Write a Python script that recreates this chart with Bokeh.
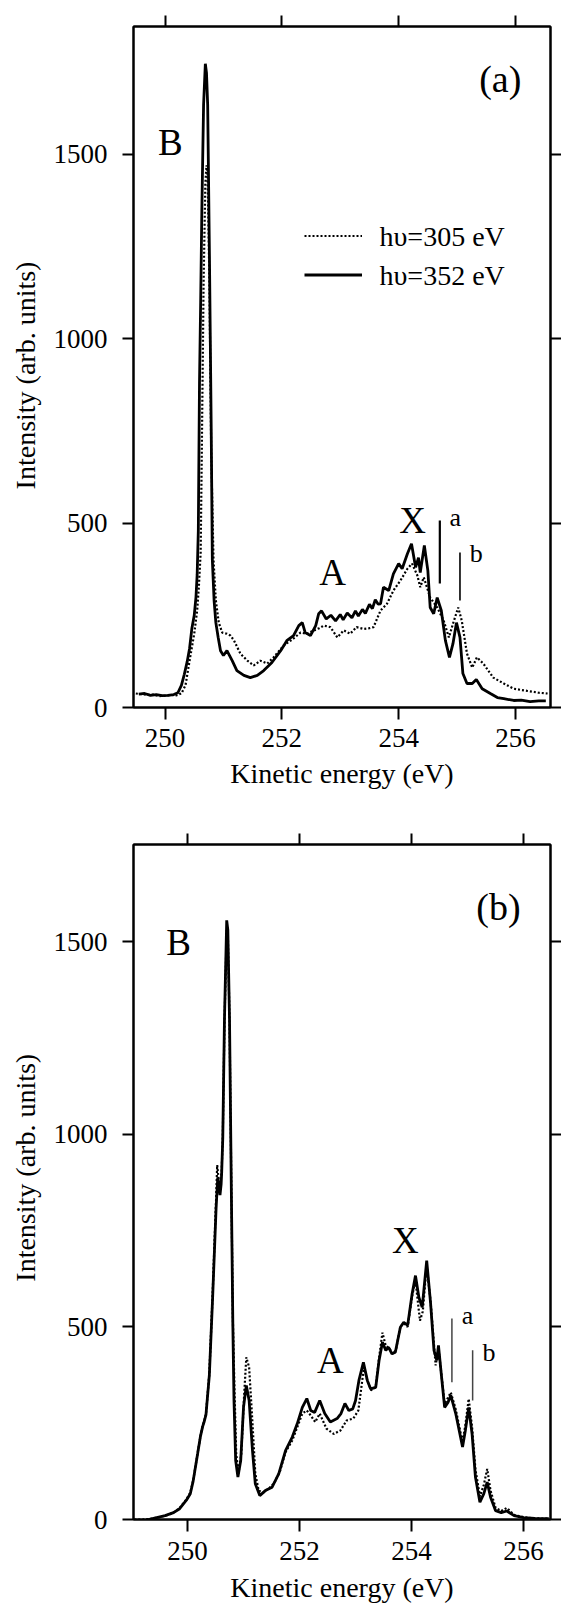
import math
from bokeh.plotting import figure
from bokeh.models import (Range1d, LinearAxis, FixedTicker, Legend, LegendItem,
                          LabelSet, ColumnDataSource)
from bokeh.layouts import column, row
from bokeh.embed import file_html
from bokeh.resources import INLINE
from bokeh.core.properties import value

FONT = "'Liberation Serif', 'Times New Roman', serif"

# ---------------- data : panel (a) ----------------
a_sol_E = [249.55, 249.65, 249.75, 249.85, 249.95, 250.05, 250.15, 250.22, 250.28, 250.33,
           250.38, 250.42, 250.46, 250.50, 250.53, 250.55, 250.57, 250.59, 250.61, 250.63,
           250.66, 250.69, 250.71, 250.73, 250.76, 250.79, 250.81, 250.84, 250.87, 250.91,
           250.95, 251.00, 251.06, 251.15, 251.23, 251.35, 251.46, 251.58, 251.69, 251.83,
           251.98, 252.09, 252.20, 252.29, 252.35, 252.40, 252.49, 252.58, 252.63, 252.68,
           252.76, 252.84, 252.92, 253.00, 253.05, 253.12, 253.20, 253.26, 253.31, 253.38,
           253.43, 253.50, 253.55, 253.60, 253.65, 253.69, 253.74, 253.83, 253.91, 254.00,
           254.06, 254.15, 254.22, 254.29, 254.34, 254.37, 254.44, 254.50, 254.54, 254.60,
           254.66, 254.73, 254.80, 254.87, 254.93, 254.99, 255.05, 255.10, 255.17, 255.26,
           255.33, 255.43, 255.57, 255.69, 255.80, 255.97, 256.10, 256.25, 256.40, 256.52]
a_sol_I = [36, 38, 33, 35, 32, 33, 35, 40, 60, 90,
           125, 160, 215, 250, 300, 360, 480, 880, 1100, 1344,
           1634, 1745, 1720, 1634, 1228, 765, 400, 290, 230, 190,
           154, 141, 154, 127, 100, 87, 81, 87, 100, 122,
           154, 182, 195, 222, 230, 203, 195, 222, 254, 262,
           240, 250, 235, 252, 238, 256, 243, 262, 248, 266,
           255, 280, 268, 292, 280, 281, 326, 317, 362, 390,
           376, 417, 444, 380, 406, 366, 439, 371, 271, 254,
           298, 263, 182, 136, 173, 230, 190, 92, 65, 65,
           76, 51, 38, 27, 24, 19, 20, 16, 18, 18]

a_dot_E = [249.50, 249.60, 249.70, 249.80, 249.90, 250.00, 250.10, 250.20, 250.28, 250.35,
           250.43, 250.50, 250.55, 250.58, 250.61, 250.63, 250.66, 250.69, 250.71, 250.73,
           250.76, 250.79, 250.83, 250.87, 250.92, 250.98, 251.06, 251.12, 251.18, 251.29,
           251.41, 251.52, 251.63, 251.75, 251.86, 252.03, 252.20, 252.32, 252.43, 252.55,
           252.64, 252.72, 252.83, 252.95, 253.06, 253.17, 253.28, 253.40, 253.50, 253.57,
           253.69, 253.80, 253.91, 254.03, 254.15, 254.23, 254.32, 254.37, 254.43, 254.54,
           254.66, 254.77, 254.86, 254.93, 255.02, 255.08, 255.17, 255.26, 255.34, 255.45,
           255.62, 255.80, 255.97, 256.20, 256.40, 256.55]
a_dot_I = [38, 36, 34, 35, 31, 32, 34, 33, 38, 60,
           136, 200, 263, 330, 420, 700, 1150, 1420, 1470, 1440,
           1150, 700, 400, 290, 230, 203, 200, 195, 182, 146,
           127, 114, 127, 119, 136, 168, 187, 203, 200, 209,
           215, 222, 218, 190, 209, 200, 218, 213, 215, 218,
           263, 281, 317, 344, 376, 390, 358, 326, 353, 298,
           271, 236, 190, 227, 271, 236, 146, 108, 136, 119,
           81, 65, 51, 45, 40, 38]

# ---------------- data : panel (b) ----------------
b_sol_E = [249.30, 249.45, 249.60, 249.75, 249.86, 249.98, 250.05, 250.10, 250.18, 250.23,
           250.27, 250.30, 250.33, 250.39, 250.45, 250.51, 250.54, 250.56, 250.58, 250.60,
           250.61, 250.63, 250.66, 250.70, 250.72, 250.75, 250.78, 250.81, 250.83, 250.86,
           250.90, 250.95, 251.00, 251.05, 251.10, 251.16, 251.21, 251.29, 251.39, 251.51,
           251.63, 251.75, 251.87, 251.96, 252.05, 252.13, 252.20, 252.27, 252.36, 252.45,
           252.55, 252.67, 252.74, 252.81, 252.88, 252.95, 253.00, 253.06, 253.14, 253.21,
           253.27, 253.36, 253.42, 253.48, 253.54, 253.59, 253.65, 253.71, 253.80, 253.86,
           253.93, 254.01, 254.07, 254.13, 254.19, 254.27, 254.34, 254.40, 254.45, 254.48,
           254.53, 254.59, 254.65, 254.70, 254.79, 254.91, 254.96, 255.02, 255.08, 255.14,
           255.22, 255.29, 255.35, 255.41, 255.50, 255.60, 255.70, 255.83, 256.00, 256.20,
           256.45]
b_sol_I = [0, 5, 10, 18, 28, 50, 67, 99, 170, 215,
           241, 255, 272, 375, 581, 807, 888, 870, 842, 870,
           900, 991, 1299, 1555, 1530, 1299, 888, 500, 309, 153,
           110, 153, 291, 348, 309, 179, 93, 62, 75, 84,
           119, 179, 214, 249, 291, 314, 283, 278, 309, 275,
           253, 262, 275, 301, 283, 287, 309, 361, 408, 361,
           339, 343, 413, 460, 439, 447, 430, 434, 499, 512,
           504, 586, 633, 577, 551, 672, 560, 439, 413, 452,
           378, 291, 304, 322, 274, 188, 231, 291, 222, 110,
           45, 67, 97, 58, 23, 18, 22, 10, 5, 3,
           2]

b_dot_E = [249.05, 249.20, 249.35, 249.50, 249.65, 249.75, 249.86, 249.98, 250.05, 250.10,
           250.18, 250.23, 250.27, 250.30, 250.33, 250.39, 250.45, 250.51, 250.53, 250.55,
           250.57, 250.59, 250.61, 250.63, 250.66, 250.70, 250.72, 250.75, 250.78, 250.81,
           250.84, 250.87, 250.91, 250.96, 251.01, 251.05, 251.10, 251.16, 251.21, 251.27,
           251.35, 251.45, 251.55, 251.65, 251.75, 251.87, 251.96, 252.05, 252.13, 252.20,
           252.28, 252.36, 252.48, 252.61, 252.73, 252.84, 252.96, 253.05, 253.15, 253.21,
           253.28, 253.36, 253.42, 253.48, 253.54, 253.60, 253.66, 253.72, 253.80, 253.86,
           253.93, 254.01, 254.07, 254.15, 254.20, 254.27, 254.34, 254.43, 254.48, 254.53,
           254.59, 254.70, 254.79, 254.91, 254.96, 255.02, 255.08, 255.14, 255.22, 255.29,
           255.35, 255.41, 255.50, 255.60, 255.70, 255.83, 256.00, 256.20, 256.45]
b_dot_I = [0, 0, 2, 6, 12, 18, 30, 52, 70, 100,
           172, 215, 243, 258, 275, 380, 590, 830, 920, 890,
           860, 875, 905, 995, 1290, 1530, 1520, 1300, 900, 520,
           330, 170, 120, 170, 320, 421, 395, 250, 120, 75,
           70, 80, 95, 125, 175, 205, 240, 275, 283, 270,
           253, 275, 236, 222, 231, 257, 262, 283, 395, 360,
           335, 345, 420, 485, 450, 445, 430, 440, 500, 510,
           500, 580, 620, 516, 540, 660, 565, 400, 445, 380,
           300, 330, 285, 200, 245, 313, 240, 130, 60, 90,
           131, 75, 30, 22, 30, 12, 6, 3, 2]

x_ticks = [250, 252, 254, 256]
y_ticks = [0, 500, 1000, 1500]
x_tick_labels = ["250", "252", "254", "256"]
y_tick_labels = ["0", "500", "1000", "1500"]
x_title = ["Kinetic energy (eV)"]
y_title = ["Intensity (arb. units)"]

legend_labels = ["h\u03c5=305 eV", "h\u03c5=352 eV"]

# annotations (a)
a_big_txt = ["B", "A", "X"]
a_big_E = [250.09, 252.87, 254.24]
a_big_I = [1531, 366, 507]
a_small_txt = ["a", "b"]
a_small_E = [254.97, 255.33]
a_small_I = [515, 417]
a_mark_E = [254.705, 255.05]
a_mark_lo = [336, 290]
a_mark_hi = [507, 420]
a_tag = ["(a)"]
a_tag_E = [255.74]
a_tag_I = [1705]

# annotations (b)
b_big_txt = ["B", "A", "X"]
b_big_E = [249.84, 252.55, 253.89]
b_big_I = [1497, 413, 724]
b_small_txt = ["a", "b"]
b_small_E = [255.0, 255.38]
b_small_I = [529, 433]
b_mark_E = [254.72, 255.09]
b_mark_lo = [356, 309]
b_mark_hi = [522, 439]
b_tag = ["(b)"]
b_tag_E = [255.55]
b_tag_I = [1591]

FRAME_W = 417
LEFT_W = 122      # strip holding the y tick labels and y title
TICK = 11
BOT_TICK = 12


def style_axis(ax, tick_out):
    ax.axis_line_width = 2
    ax.axis_line_color = "black"
    ax.major_tick_line_width = 2
    ax.major_tick_line_color = "black"
    ax.major_tick_in = 0
    ax.major_tick_out = tick_out
    ax.minor_tick_in = 0
    ax.minor_tick_out = 0
    ax.minor_tick_line_color = None
    ax.major_label_text_color = None
    ax.major_label_text_font_size = "0px"
    ax.major_label_standoff = 0


def bare(fig):
    fig.xgrid.visible = False
    fig.ygrid.visible = False
    fig.outline_line_color = None
    return fig


def make_panel(xr, yr, frame_h, b_top, strip_h, tick_lab_off, title_off, ytitle_I,
               sol_E, sol_I, dot_E, dot_I,
               big_txt, big_E, big_I, small_txt, small_E, small_I,
               mark_E, mark_lo, mark_hi, tag, tag_E, tag_I, mark_colors, mark_widths,
               legend=False):
    ppx = FRAME_W / (xr[1] - xr[0])
    ppy = frame_h / (yr[1] - yr[0])
    b_bot = BOT_TICK + 1

    p = figure(frame_width=FRAME_W, frame_height=frame_h,
               x_range=Range1d(*xr), y_range=Range1d(*yr),
               output_backend="svg", toolbar_location=None,
               min_border_left=TICK, min_border_right=TICK,
               min_border_top=b_top, min_border_bottom=b_bot,
               background_fill_color="white", border_fill_color="white")
    p.xgrid.visible = False
    p.ygrid.visible = False
    p.outline_line_color = "black"
    p.outline_line_width = 2

    xt = FixedTicker(ticks=x_ticks, minor_ticks=[])
    yt = FixedTicker(ticks=y_ticks, minor_ticks=[])
    p.xaxis.ticker = xt
    p.yaxis.ticker = yt
    style_axis(p.xaxis[0], BOT_TICK)
    style_axis(p.yaxis[0], TICK)
    top = LinearAxis(ticker=xt)
    style_axis(top, TICK)
    p.add_layout(top, "above")
    right = LinearAxis(ticker=yt)
    style_axis(right, TICK)
    p.add_layout(right, "right")

    r_dot = p.line(dot_E, dot_I, line_color="black", line_width=2.2, line_dash="2 2")
    r_sol = p.line(sol_E, sol_I, line_color="black", line_width=2.8)

    p.segment(x0=mark_E, y0=mark_lo, x1=mark_E, y1=mark_hi,
              line_color=mark_colors, line_width=mark_widths)

    p.text(x=big_E, y=big_I, text=big_txt, text_font=value(FONT),
           text_font_size="37px", text_align="center", text_baseline="alphabetic",
           text_color="black")
    p.text(x=small_E, y=small_I, text=small_txt, text_font=value(FONT),
           text_font_size="26px", text_align="center", text_baseline="alphabetic",
           text_color="black")
    p.text(x=tag_E, y=tag_I, text=tag, text_font=value(FONT),
           text_font_size="38px", text_align="center", text_baseline="middle",
           text_color="black")

    if legend:
        lg = Legend(items=[LegendItem(label=value(legend_labels[0]), renderers=[r_dot]),
                           LegendItem(label=value(legend_labels[1]), renderers=[r_sol])],
                    location=(171, 413), orientation="vertical",
                    padding=0, spacing=0, margin=0,
                    glyph_width=58, glyph_height=39, label_height=39,
                    label_standoff=17, label_text_font=FONT,
                    label_text_font_size="28px", label_text_color=None,
                    border_line_alpha=0, background_fill_alpha=0)
        p.add_layout(lg)
        lx = xr[0] + (171 + 58 + 17) / ppx
        ly_top = yr[1] - 209.5 / ppy
        lsrc = ColumnDataSource(dict(x=[lx, lx], y=[ly_top, ly_top - 39.0 / ppy],
                                     t=legend_labels))
        p.add_layout(LabelSet(x="x", y="y", text="t", source=lsrc, text_font=value(FONT),
                              text_font_size="28px", text_align="left",
                              text_baseline="middle", text_color="black"))

    # bottom strip: x tick labels and x title, sharing the panel's x range
    bot = figure(frame_width=FRAME_W, frame_height=strip_h,
                 x_range=p.x_range, y_range=Range1d(-strip_h, 0),
                 output_backend="svg", toolbar_location=None,
                 x_axis_location=None, y_axis_location=None,
                 min_border_left=TICK, min_border_right=TICK,
                 min_border_top=0, min_border_bottom=0,
                 background_fill_color="white", border_fill_color="white")
    bare(bot)
    bot.text(x=x_ticks, y=[-tick_lab_off] * len(x_ticks), text=x_tick_labels,
             text_font=value(FONT), text_font_size="27px", text_align="center",
             text_baseline="middle", text_color="black")
    bot.text(x=[(xr[0] + xr[1]) / 2], y=[-title_off], text=x_title,
             text_font=value(FONT), text_font_size="28px", text_align="center",
             text_baseline="middle", text_color="black")

    # left strip: y tick labels and y title, same vertical scale as the panel
    below = b_bot + strip_h
    lft = figure(frame_width=LEFT_W, frame_height=frame_h + below,
                 x_range=Range1d(0, LEFT_W),
                 y_range=Range1d(yr[0] - below / ppy, yr[1]),
                 output_backend="svg", toolbar_location=None,
                 x_axis_location=None, y_axis_location=None,
                 min_border_left=0, min_border_right=0,
                 min_border_top=b_top, min_border_bottom=0,
                 background_fill_color="white", border_fill_color="white")
    bare(lft)
    lft.text(x=[LEFT_W - 15] * len(y_ticks), y=y_ticks, text=y_tick_labels,
             text_font=value(FONT), text_font_size="27px", text_align="right",
             text_baseline="middle", text_color="black")
    lft.text(x=[25], y=[ytitle_I], text=y_title, angle=math.pi / 2,
             text_font=value(FONT), text_font_size="28px", text_align="center",
             text_baseline="middle", text_color="black")

    return row(lft, column(p, bot, spacing=0), spacing=0)


# panel (a): frame top 26, frame 681 high, bottom strip 83
pa = make_panel((249.46, 256.60), (0, 1846), 681, 26, 83, 17, 53, 900,
                a_sol_E, a_sol_I, a_dot_E, a_dot_I,
                a_big_txt, a_big_E, a_big_I, a_small_txt, a_small_E, a_small_I,
                a_mark_E, a_mark_lo, a_mark_hi, a_tag, a_tag_E, a_tag_I,
                ["black", "black"], [2.2, 1.6], legend=True)

# panel (b): frame top 41 below panel (a), frame 675 high, bottom strip 72
pb = make_panel((249.036, 256.48), (0, 1752), 675, 41, 72, 18, 55, 913,
                b_sol_E, b_sol_I, b_dot_E, b_dot_I,
                b_big_txt, b_big_E, b_big_I, b_small_txt, b_small_E, b_small_I,
                b_mark_E, b_mark_lo, b_mark_hi, b_tag, b_tag_E, b_tag_I,
                ["#444444", "#444444"], [1.5, 1.5], legend=False)

layout = column(pa, pb, spacing=0)
open("out.html", "w").write(file_html(layout, INLINE))
